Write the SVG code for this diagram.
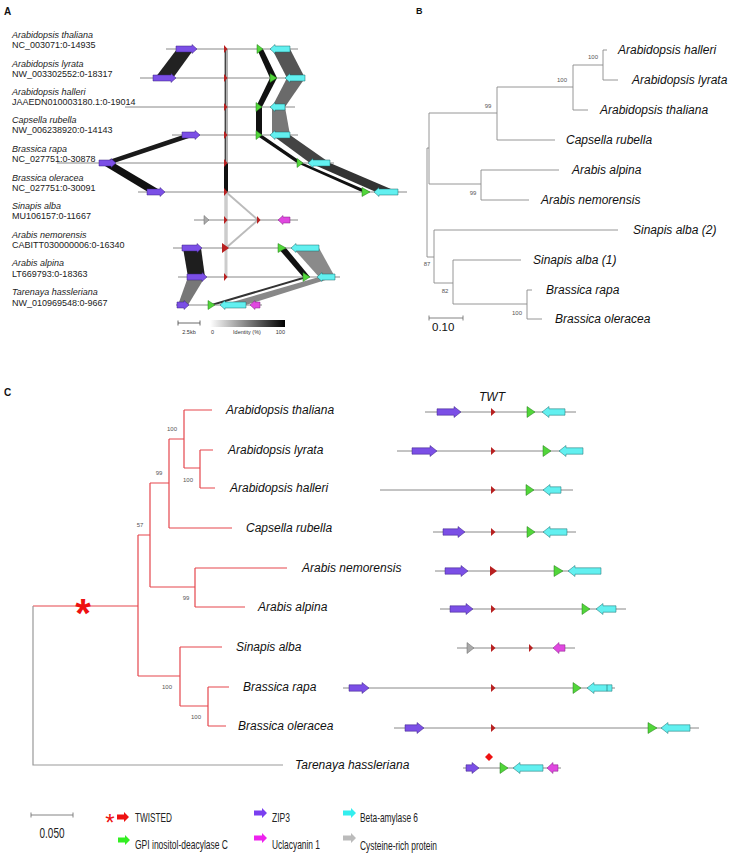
<svg xmlns="http://www.w3.org/2000/svg" width="748" height="854" viewBox="0 0 748 854">
<defs>
<linearGradient id="idg" x1="0" y1="0" x2="1" y2="0"><stop offset="0" stop-color="#fff"/><stop offset="1" stop-color="#000"/></linearGradient>
</defs>
<style>
text{font-family:"Liberation Sans",Arial,sans-serif;fill:#111}
.pl{font-weight:bold;font-size:10px}
.sp{font-style:italic;font-size:9px;fill:#222}
.acc{font-size:9px;fill:#222}
.lb{font-style:italic;font-size:12px}
.bs{font-size:6px;fill:#555}
.sm{font-size:5.5px;fill:#333}
.lg{font-size:13px;fill:#222}
.trk{stroke:#888;stroke-width:1;fill:none}
.br{stroke:#8a8a8a;stroke-width:0.9;fill:none}
.rc{stroke:#e5474d;stroke-width:1.2;fill:none}
.gc{stroke:#999;stroke-width:1.2;fill:none}
.zip{fill:#7b4fe6;stroke:#3a2080;stroke-width:0.5}
.bam{fill:#62f0f0;stroke:#1a6a6a;stroke-width:0.5}
.gpi{fill:#52d63a;stroke:#227a18;stroke-width:0.5}
.twt{fill:#b82020}
.ucl{fill:#e048e0;stroke:#802080;stroke-width:0.5}
.crp{fill:#aaa;stroke:#666;stroke-width:0.5}
</style>

<!-- PANEL LABELS -->
<text class="pl" x="4" y="15">A</text>
<text class="pl" x="416" y="14" style="font-size:9px">B</text>
<text class="pl" x="4" y="396">C</text>

<!-- CONNECTORS: synteny bands (panel A) and tree branches (B, C) -->
<g id="connectors">
 <g id="synteny-bands">
  <polygon points="177,49 194,49 173,78 155,78" fill="#222"/>
  <polygon points="183,135 198,135 114,163 100,163" fill="#1a1a1a"/>
  <polygon points="100,163 114,163 163,192 148,192" fill="#111"/>
  <polygon points="183,248 201,248 205,277 188,277" fill="#1e1e1e"/>
  <polygon points="188,277 205,277 188,305 178,305" fill="#777"/>
  <polygon points="257,49 263,49 277,78 270,78" fill="#111"/>
  <polygon points="270,78 277,78 262,107 256,107" fill="#111"/>
  <polygon points="256,107 262,107 262,135 256,135" fill="#111"/>
  <polygon points="256,135 262,135 303,163 297,163" fill="#111"/>
  <polygon points="297,163 303,163 370,192 362,192" fill="#111"/>
  <polygon points="278,248 286,248 310,277 303,277" fill="#111"/>
  <polygon points="303,277 310,277 215,305 208,305" fill="#333"/>
  <polygon points="272,49 290,49 305,78 287,78" fill="#555"/>
  <polygon points="287,78 305,78 285,107 272,107" fill="#6a6a6a"/>
  <polygon points="272,107 285,107 290,135 272,135" fill="#777"/>
  <polygon points="272,135 290,135 330,163 310,163" fill="#444"/>
  <polygon points="310,163 330,163 398,192 376,192" fill="#333"/>
  <polygon points="293,248 319,248 335,277 319,277" fill="#8a8a8a"/>
  <polygon points="319,277 335,277 246,305 222,305" fill="#888"/>
  <rect x="224" y="49" width="4" height="114" fill="#b0b0b0"/>
  <line x1="225.5" y1="49" x2="225.5" y2="163" stroke="#444" stroke-width="1"/>
  <rect x="224" y="163" width="4" height="29" fill="#111"/>
  <line x1="226" y1="192" x2="226" y2="248" stroke="#ccc" stroke-width="3.5"/>
  <line x1="226" y1="192" x2="258" y2="220" stroke="#bbb" stroke-width="2"/>
  <line x1="258" y1="220" x2="226" y2="248" stroke="#bbb" stroke-width="2"/>
  <line x1="226" y1="248" x2="226" y2="277" stroke="#ccc" stroke-width="3"/>
 </g>
 <g id="tree-B" class="br">
  <path d="M603,50V80M603,50H607M603,80H618"/>
  <path d="M573,65V110M573,65H603M573,110H588"/>
  <path d="M497,87V140M497,87H573M497,140H555"/>
  <path d="M429,113V184M429,113H497M429,184H481"/>
  <path d="M481,170V200M481,170H559M481,200H529"/>
  <path d="M427,148V257M427,148H429M427,257H434"/>
  <path d="M434,230V283M434,230H618M434,283H453"/>
  <path d="M453,260V304M453,260H521M453,304H527"/>
  <path d="M527,290V319M527,290H532M527,319H542"/>
 </g>
 <g id="tree-C">
  <path class="rc" d="M184,410V468M184,410H212M184,468H200"/>
  <path class="rc" d="M200,450V488M200,450H213M200,488H215"/>
  <path class="rc" d="M169,439V528M169,439H184M169,528H232"/>
  <path class="rc" d="M150,483V587M150,483H169M150,587H195"/>
  <path class="rc" d="M195,568V607M195,568H287M195,607H245"/>
  <path class="rc" d="M138,535V676M138,535H150M138,676H180"/>
  <path class="rc" d="M180,647V706M180,647H222M180,706H208"/>
  <path class="rc" d="M208,687V726M208,687H229M208,726H226"/>
  <path class="rc" d="M33,606H138"/>
  <path class="gc" d="M33,606V765H283"/>
 </g>
</g>

<!-- PANEL A tracks -->
<g id="A-thaliana">
 <text class="sp" x="12" y="37.5">Arabidopsis thaliana</text><text class="acc" x="12" y="47.5">NC_003071:0-14935</text>
 <line class="trk" x1="166" y1="49" x2="298" y2="49"/>
 <path class="zip" d="M176,46h16v-1.5l5,4.5l-5,4.5v-1.5h-16z"/>
 <path class="twt" d="M224,45l3.5,4l-3.5,4z"/>
 <path class="gpi" d="M257,44.5l6,4.5l-6,4.5z"/>
 <path class="bam" d="M270,49l5,-4.5v1.5h15v6h-15v1.5z"/>
</g>
<g id="A-lyrata">
 <text class="sp" x="12" y="66.5">Arabidopsis lyrata</text><text class="acc" x="12" y="76.5">NW_003302552:0-18317</text>
 <line class="trk" x1="140" y1="78" x2="305" y2="78"/>
 <path class="zip" d="M153,75h18v-1.5l5,4.5l-5,4.5v-1.5h-18z"/>
 <path class="twt" d="M224,74l3.5,4l-3.5,4z"/>
 <path class="gpi" d="M270,73.5l7,4.5l-7,4.5z"/>
 <path class="bam" d="M285,78l5,-4.5v1.5h15v6h-15v1.5z"/>
</g>
<g id="A-halleri">
 <text class="sp" x="12" y="95">Arabidopsis halleri</text><text class="acc" x="12" y="105">JAAEDN010003180.1:0-19014</text>
 <line class="trk" x1="125" y1="107" x2="295" y2="107"/>
 <path class="twt" d="M224,103l3.5,4l-3.5,4z"/>
 <path class="gpi" d="M256,102.5l6,4.5l-6,4.5z"/>
 <path class="bam" d="M270,107l5,-4.5v1.5h10v6h-10v1.5z"/>
</g>
<g id="A-capsella">
 <text class="sp" x="12" y="123">Capsella rubella</text><text class="acc" x="12" y="133">NW_006238920:0-14143</text>
 <line class="trk" x1="172" y1="135" x2="298" y2="135"/>
 <path class="zip" d="M182,132h13v-1.5l5,4.5l-5,4.5v-1.5h-13z"/>
 <path class="twt" d="M224,131l3.5,4l-3.5,4z"/>
 <path class="gpi" d="M256,130.5l6,4.5l-6,4.5z"/>
 <path class="bam" d="M270,135l5,-4.5v1.5h15v6h-15v1.5z"/>
</g>
<g id="A-rapa">
 <text class="sp" x="12" y="151.5">Brassica rapa</text><text class="acc" x="12" y="161.5">NC_027751:0-30878</text>
 <line class="trk" x1="57" y1="163" x2="334" y2="163"/>
 <path class="zip" d="M99,160h12v-1.5l5,4.5l-5,4.5v-1.5h-12z"/>
 <path class="twt" d="M224,159l3.5,4l-3.5,4z"/>
 <path class="gpi" d="M297,158.5l6,4.5l-6,4.5z"/>
 <path class="bam" d="M308,163l5,-4.5v1.5h17v6h-17v1.5z"/>
</g>
<g id="A-oleracea">
 <text class="sp" x="12" y="180.5">Brassica oleracea</text><text class="acc" x="12" y="190.5">NC_027751:0-30091</text>
 <line class="trk" x1="138" y1="192" x2="407" y2="192"/>
 <path class="zip" d="M147,189h13v-1.5l5,4.5l-5,4.5v-1.5h-13z"/>
 <path class="twt" d="M224,188l3.5,4l-3.5,4z"/>
 <path class="gpi" d="M362,187.5l8,4.5l-8,4.5z"/>
 <path class="bam" d="M374,192l5,-4.5v1.5h19v6h-19v1.5z"/>
</g>
<g id="A-sinapis">
 <text class="sp" x="12" y="209">Sinapis alba</text><text class="acc" x="12" y="219">MU106157:0-11667</text>
 <line class="trk" x1="194" y1="220" x2="298" y2="220"/>
 <path class="crp" d="M204,215.5l5,4.5l-5,4.5z"/>
 <path class="twt" d="M224,216l3.5,4l-3.5,4z"/>
 <path class="twt" d="M257,216l3.5,4l-3.5,4z"/>
 <path class="ucl" d="M278,220l5,-4.5v1.5h7v6h-7v1.5z"/>
</g>
<g id="A-nemorensis">
 <text class="sp" x="12" y="237.5">Arabis nemorensis</text><text class="acc" x="12" y="248">CABITT030000006:0-16340</text>
 <line class="trk" x1="173" y1="248" x2="319" y2="248"/>
 <path class="zip" d="M182,245h15v-1.5l5,4.5l-5,4.5v-1.5h-15z"/>
 <path class="twt" d="M222,243l7,5l-7,5z" fill="#d02020"/>
 <path class="gpi" d="M278,243.5l8,4.5l-8,4.5z"/>
 <path class="bam" d="M291,248l5,-4.5v1.5h23v6h-23v1.5z"/>
</g>
<g id="A-alpina">
 <text class="sp" x="12" y="266">Arabis alpina</text><text class="acc" x="12" y="276.5">LT669793:0-18363</text>
 <line class="trk" x1="178" y1="277" x2="340" y2="277"/>
 <path class="zip" d="M187,274h15v-1.5l5,4.5l-5,4.5v-1.5h-15z"/>
 <path class="twt" d="M224,273l3.5,4l-3.5,4z"/>
 <path class="gpi" d="M303,272.5l7,4.5l-7,4.5z"/>
 <path class="bam" d="M317,277l5,-4.5v1.5h13v6h-13v1.5z"/>
</g>
<g id="A-tarenaya">
 <text class="sp" x="12" y="295">Tarenaya hassleriana</text><text class="acc" x="12" y="306">NW_010969548:0-9667</text>
 <line class="trk" x1="176" y1="305" x2="262" y2="305"/>
 <path class="zip" d="M177,302h7v-1.5l5,4.5l-5,4.5v-1.5h-7z"/>
 <path class="gpi" d="M208,300.5l7,4.5l-7,4.5z"/>
 <path class="bam" d="M220,305l5,-4.5v1.5h21v6h-21v1.5z"/>
 <path class="ucl" d="M250,305l5,-4.5v1.5h5v6h-5v1.5z"/>
</g>
<g id="A-scale">
 <path d="M178,320.5v5M178,323H200M200,320.5v5" stroke="#444" stroke-width="0.8" fill="none"/>
 <text class="sm" x="189" y="334" text-anchor="middle">2.5kb</text>
 <rect x="210" y="320" width="75" height="7" fill="url(#idg)"/>
 <text class="sm" x="211" y="334">0</text>
 <text class="sm" x="247" y="334" text-anchor="middle">Identity (%)</text>
 <text class="sm" x="285" y="334" text-anchor="end">100</text>
</g>

<!-- PANEL B labels -->
<g id="B-halleri"><text class="lb" x="618" y="54">Arabidopsis halleri</text></g>
<g id="B-lyrata"><text class="lb" x="632" y="84">Arabidopsis lyrata</text></g>
<g id="B-thaliana"><text class="lb" x="600" y="114">Arabidopsis thaliana</text></g>
<g id="B-capsella"><text class="lb" x="566" y="144">Capsella rubella</text></g>
<g id="B-alpina"><text class="lb" x="572" y="174">Arabis alpina</text></g>
<g id="B-nemorensis"><text class="lb" x="541" y="204">Arabis nemorensis</text></g>
<g id="B-sinapis2"><text class="lb" x="633" y="234">Sinapis alba (2)</text></g>
<g id="B-sinapis1"><text class="lb" x="533" y="264">Sinapis alba (1)</text></g>
<g id="B-rapa"><text class="lb" x="546" y="294">Brassica rapa</text></g>
<g id="B-oleracea"><text class="lb" x="555" y="323">Brassica oleracea</text></g>
<g id="B-support">
 <text class="bs" x="593" y="59" text-anchor="middle">100</text>
 <text class="bs" x="562" y="82" text-anchor="middle">100</text>
 <text class="bs" x="488" y="108" text-anchor="middle">99</text>
 <text class="bs" x="473" y="195" text-anchor="middle">99</text>
 <text class="bs" x="427" y="266" text-anchor="middle">87</text>
 <text class="bs" x="445" y="293" text-anchor="middle">82</text>
 <text class="bs" x="517" y="315" text-anchor="middle">100</text>
</g>
<g id="B-scale">
 <path d="M429,315.5v5M429,318H463M463,315.5v5" stroke="#666" stroke-width="0.8" fill="none"/>
 <text x="432" y="331" style="font-size:11.5px">0.10</text>
</g>

<!-- PANEL C -->
<text class="lb" x="492" y="401" text-anchor="middle">TWT</text>
<g id="C-support">
 <text class="bs" x="172" y="431" text-anchor="middle">100</text>
 <text class="bs" x="188" y="482" text-anchor="middle">100</text>
 <text class="bs" x="159" y="475" text-anchor="middle">99</text>
 <text class="bs" x="140" y="527" text-anchor="middle">57</text>
 <text class="bs" x="186" y="600" text-anchor="middle">99</text>
 <text class="bs" x="167" y="689" text-anchor="middle">100</text>
 <text class="bs" x="196" y="719" text-anchor="middle">100</text>
</g>
<text x="83" y="627" text-anchor="middle" style="font-size:40px;font-weight:bold;fill:#ee1111">*</text>

<g id="C-thaliana">
 <text class="lb" x="226" y="414">Arabidopsis thaliana</text>
 <line class="trk" x1="425" y1="412" x2="576" y2="412"/>
 <path class="zip" d="M437,408.8h17v-2.3l7,5.5l-7,5.5v-2.3h-17z"/>
 <path class="twt" d="M491,408l4.5,4l-4.5,4z"/>
 <path class="gpi" d="M527,406.5l8,5.5l-8,5.5z"/>
 <path class="bam" d="M542,412l7,-5.5v2.3h16v6.4h-16v2.3z"/>
</g>
<g id="C-lyrata">
 <text class="lb" x="228" y="454">Arabidopsis lyrata</text>
 <line class="trk" x1="397" y1="451" x2="583" y2="451"/>
 <path class="zip" d="M412,447.8h18v-2.3l7,5.5l-7,5.5v-2.3h-18z"/>
 <path class="twt" d="M491,447l4.5,4l-4.5,4z"/>
 <path class="gpi" d="M543,445.5l8,5.5l-8,5.5z"/>
 <path class="bam" d="M559,451l7,-5.5v2.3h17v6.4h-17v2.3z"/>
</g>
<g id="C-halleri">
 <text class="lb" x="230" y="492">Arabidopsis halleri</text>
 <line class="trk" x1="380" y1="490" x2="573" y2="490"/>
 <path class="twt" d="M491,486l4.5,4l-4.5,4z"/>
 <path class="gpi" d="M526,484.5l8,5.5l-8,5.5z"/>
 <path class="bam" d="M543,490l7,-5.5v2.3h11v6.4h-11v2.3z"/>
</g>
<g id="C-capsella">
 <text class="lb" x="246" y="532">Capsella rubella</text>
 <line class="trk" x1="433" y1="532" x2="576" y2="532"/>
 <path class="zip" d="M443,528.8h15v-2.3l7,5.5l-7,5.5v-2.3h-15z"/>
 <path class="twt" d="M491,528l4.5,4l-4.5,4z"/>
 <path class="gpi" d="M527,526.5l8,5.5l-8,5.5z"/>
 <path class="bam" d="M543,532l7,-5.5v2.3h17v6.4h-17v2.3z"/>
</g>
<g id="C-nemorensis">
 <text class="lb" x="302" y="572">Arabis nemorensis</text>
 <line class="trk" x1="435" y1="571" x2="601" y2="571"/>
 <path class="zip" d="M445,567.8h16v-2.3l7,5.5l-7,5.5v-2.3h-16z"/>
 <path class="twt" d="M490,566l7,5l-7,5z" fill="#d02020"/>
 <path class="gpi" d="M554,565.5l9,5.5l-9,5.5z"/>
 <path class="bam" d="M568,571l7,-5.5v2.3h26v6.4h-26v2.3z"/>
</g>
<g id="C-alpina">
 <text class="lb" x="258" y="611">Arabis alpina</text>
 <line class="trk" x1="440" y1="609" x2="626" y2="609"/>
 <path class="zip" d="M450,605.8h16v-2.3l7,5.5l-7,5.5v-2.3h-16z"/>
 <path class="twt" d="M491,605l4.5,4l-4.5,4z"/>
 <path class="gpi" d="M582,603.5l8,5.5l-8,5.5z"/>
 <path class="bam" d="M596,609l7,-5.5v2.3h13v6.4h-13v2.3z"/>
</g>
<g id="C-sinapis">
 <text class="lb" x="236" y="651">Sinapis alba</text>
 <line class="trk" x1="457" y1="648" x2="575" y2="648"/>
 <path class="crp" d="M467,642.5l7,5.5l-7,5.5z"/>
 <path class="twt" d="M491,644l4.5,4l-4.5,4z"/>
 <path class="twt" d="M529,644l4,4l-4,4z"/>
 <path class="ucl" d="M553,648l6,-5.5v2.3h6v6.4h-6v2.3z"/>
</g>
<g id="C-rapa">
 <text class="lb" x="243" y="691">Brassica rapa</text>
 <line class="trk" x1="343" y1="688" x2="615" y2="688"/>
 <path class="zip" d="M349,684.8h13v-2.3l7,5.5l-7,5.5v-2.3h-13z"/>
 <path class="twt" d="M491,684l4.5,4l-4.5,4z"/>
 <path class="gpi" d="M573,682.5l8,5.5l-8,5.5z"/>
 <path class="bam" d="M587,688l7,-5.5v2.3h18v6.4h-18v2.3z"/>
 <path d="M607,684.8v6.4" stroke="#1a6a6a" stroke-width="0.6"/>
</g>
<g id="C-oleracea">
 <text class="lb" x="238" y="730">Brassica oleracea</text>
 <line class="trk" x1="394" y1="728" x2="699" y2="728"/>
 <path class="zip" d="M405,724.8h12v-2.3l7,5.5l-7,5.5v-2.3h-12z"/>
 <path class="twt" d="M491,724l4.5,4l-4.5,4z"/>
 <path class="gpi" d="M648,722.5l9,5.5l-9,5.5z"/>
 <path class="bam" d="M661,728l7,-5.5v2.3h22v6.4h-22v2.3z"/>
</g>
<g id="C-tarenaya">
 <text class="lb" x="295" y="769">Tarenaya hassleriana</text>
 <line class="trk" x1="463" y1="768" x2="561" y2="768"/>
 <path class="zip" d="M466,764.8h6v-2.3l7,5.5l-7,5.5v-2.3h-6z"/>
 <path d="M489,753l4,4l-4,4l-4,-4z" fill="#ee1111"/>
 <path class="gpi" d="M500,762.5l8,5.5l-8,5.5z"/>
 <path class="bam" d="M513,768l7,-5.5v2.3h23v6.4h-23v2.3z"/>
 <path class="ucl" d="M547,768l6,-5.5v2.3h5v6.4h-5v2.3z"/>
</g>

<!-- LEGEND -->
<g id="C-scale">
 <path d="M31,812.5v5M31,815H73M73,812.5v5" stroke="#777" stroke-width="0.9" fill="none"/>
 <text x="52" y="838" text-anchor="middle" textLength="25" lengthAdjust="spacingAndGlyphs" style="font-size:14px;fill:#222">0.050</text>
</g>
<g id="legend">
 <text x="110" y="831" text-anchor="middle" style="font-size:24px;fill:#ee1111">*</text>
 <path d="M117,814.5h7v-2.5l5,5l-5,5v-2.5h-7z" fill="#ee1111"/>
 <text class="lg" x="135" y="821.5" textLength="37" lengthAdjust="spacingAndGlyphs">TWISTED</text>
 <path d="M118,837.5h7v-2.5l5,5l-5,5v-2.5h-7z" fill="#33ee22"/>
 <text class="lg" x="135" y="849" textLength="93" lengthAdjust="spacingAndGlyphs">GPI inositol-deacylase C</text>
 <path d="M254,810.5h8v-2.5l5,5l-5,5v-2.5h-8z" fill="#7a3ff0"/>
 <text class="lg" x="272" y="821.5" textLength="18" lengthAdjust="spacingAndGlyphs">ZIP3</text>
 <path d="M254,835.5h8v-2.5l5,5l-5,5v-2.5h-8z" fill="#ee22ee"/>
 <text class="lg" x="272" y="849" textLength="48" lengthAdjust="spacingAndGlyphs">Uclacyanin 1</text>
 <path d="M343,810.5h8v-2.5l5,5l-5,5v-2.5h-8z" fill="#33eeee"/>
 <text class="lg" x="360" y="821.5" textLength="58" lengthAdjust="spacingAndGlyphs">Beta-amylase 6</text>
 <path d="M343,835.5h8v-2.5l5,5l-5,5v-2.5h-8z" fill="#bbbbbb"/>
 <text class="lg" x="360" y="850" textLength="77" lengthAdjust="spacingAndGlyphs">Cysteine-rich protein</text>
</g>
</svg>
